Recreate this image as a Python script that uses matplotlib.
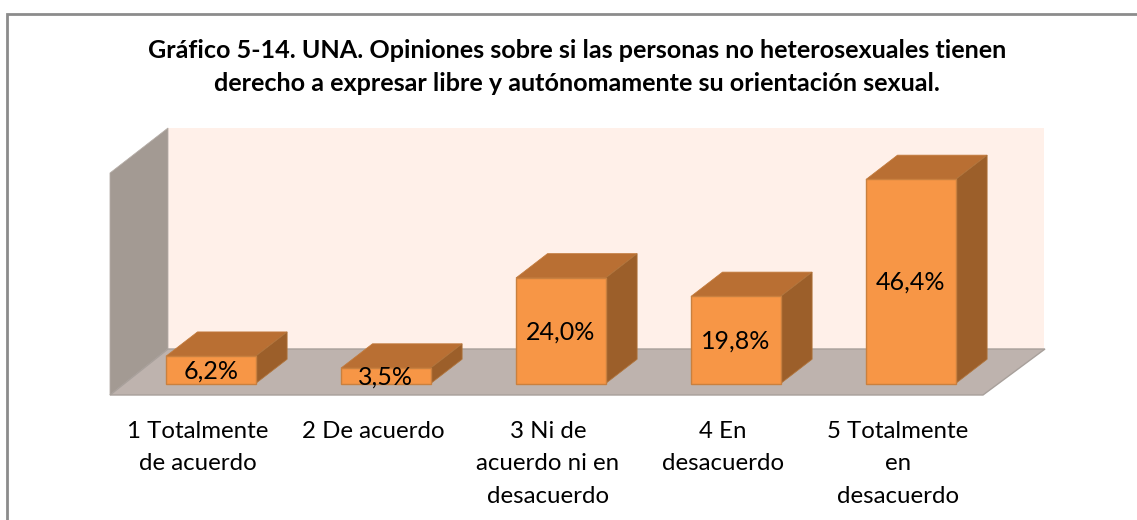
import matplotlib
matplotlib.use("Agg")
import matplotlib.pyplot as plt
from matplotlib.patches import Polygon, Rectangle

categories = ["1 Totalmente\nde acuerdo", "2 De acuerdo", "3 Ni de\nacuerdo ni en\ndesacuerdo",
              "4 En\ndesacuerdo", "5 Totalmente\nen\ndesacuerdo"]
values = [6.2, 3.5, 24.0, 19.8, 46.4]
title = ("Gráfico 5-14. UNA. Opiniones sobre si las personas no heterosexuales tienen\n"
         "derecho a expresar libre y autónomamente su orientación sexual.")

W, H = 1137, 520
PX_X = 175.0      # pixels per category
PX_Y = 4.397      # pixels per percentage point
X0, Y0 = 210.8, 383.5   # pixel position of category 0, value 0

plt.rcParams["font.family"] = ["Lato", "DejaVu Sans"]
fig = plt.figure(figsize=(W / 100, H / 100), dpi=100, facecolor="white")
ax = fig.add_axes([0, 0, 1, 1])
ax.set_xlim((0 - X0) / PX_X, (W - X0) / PX_X)
ax.set_ylim((Y0 - H) / PX_Y, Y0 / PX_Y)
ax.axis("off")

def dx(px):
    return (px - X0) / PX_X

def dy(py):
    return (Y0 - py) / PX_Y

def poly(points, **kw):
    ax.add_patch(Polygon([(dx(a), dy(b)) for a, b in points], closed=True, **kw))

# outer frame (open to the right and bottom edges of the image)
ax.plot([dx(7), dx(7), dx(W + 5)], [dy(H + 5), dy(14), dy(14)], color="#8C8C8C", lw=2.0,
        solid_joinstyle="miter", zorder=1)

# 3-D chart room
poly([(168, 128), (1044, 128), (1044, 349), (168, 349)], fc="#FFF0E9", ec="none", zorder=1)
poly([(110, 173), (168, 128), (168, 349), (110, 395)], fc="#A39A93", ec="#B5ADA7", lw=0.6, zorder=2)
poly([(110, 395), (168, 349), (1045, 349), (983, 395)], fc="#BEB3AE", ec="#A8A09B", lw=1.0, zorder=2)

# bars
BAR_W = 89.6 / PX_X
DEPTH_X = 31.5 / PX_X
DEPTH_Y = 24.3 / PX_Y
for i, v in enumerate(values):
    l, r = i - BAR_W / 2, i + BAR_W / 2
    ax.add_patch(Polygon([(l, v), (r, v), (r + DEPTH_X, v + DEPTH_Y), (l + DEPTH_X, v + DEPTH_Y)],
                         fc="#B96F33", ec="#C27A3C", lw=0.6, zorder=3))
    ax.add_patch(Polygon([(r, 0), (r + DEPTH_X, DEPTH_Y), (r + DEPTH_X, v + DEPTH_Y), (r, v)],
                         fc="#9C5F2A", ec="#B0743C", lw=0.6, zorder=3))
    ax.add_patch(Rectangle((l, 0), BAR_W, v, fc="#F79646", ec="#C9803F", lw=1.0, zorder=4))
    ax.text(i, v / 2 - 0.2, f"{v:.1f}%".replace(".", ","), ha="center",
            va="center", fontsize=18, color="black", zorder=5)

# category labels
for i, c in enumerate(categories):
    ax.text(i - 12.8 / PX_X, dy(420.5), c, ha="center", va="top", fontsize=17.3, color="black",
            linespacing=1.7, zorder=5)

ax.text(dx(577), dy(67), title, ha="center", va="center", fontsize=18.05, fontweight="bold",
        color="black", linespacing=1.53, zorder=5)

fig.savefig("out.png", dpi=100)
